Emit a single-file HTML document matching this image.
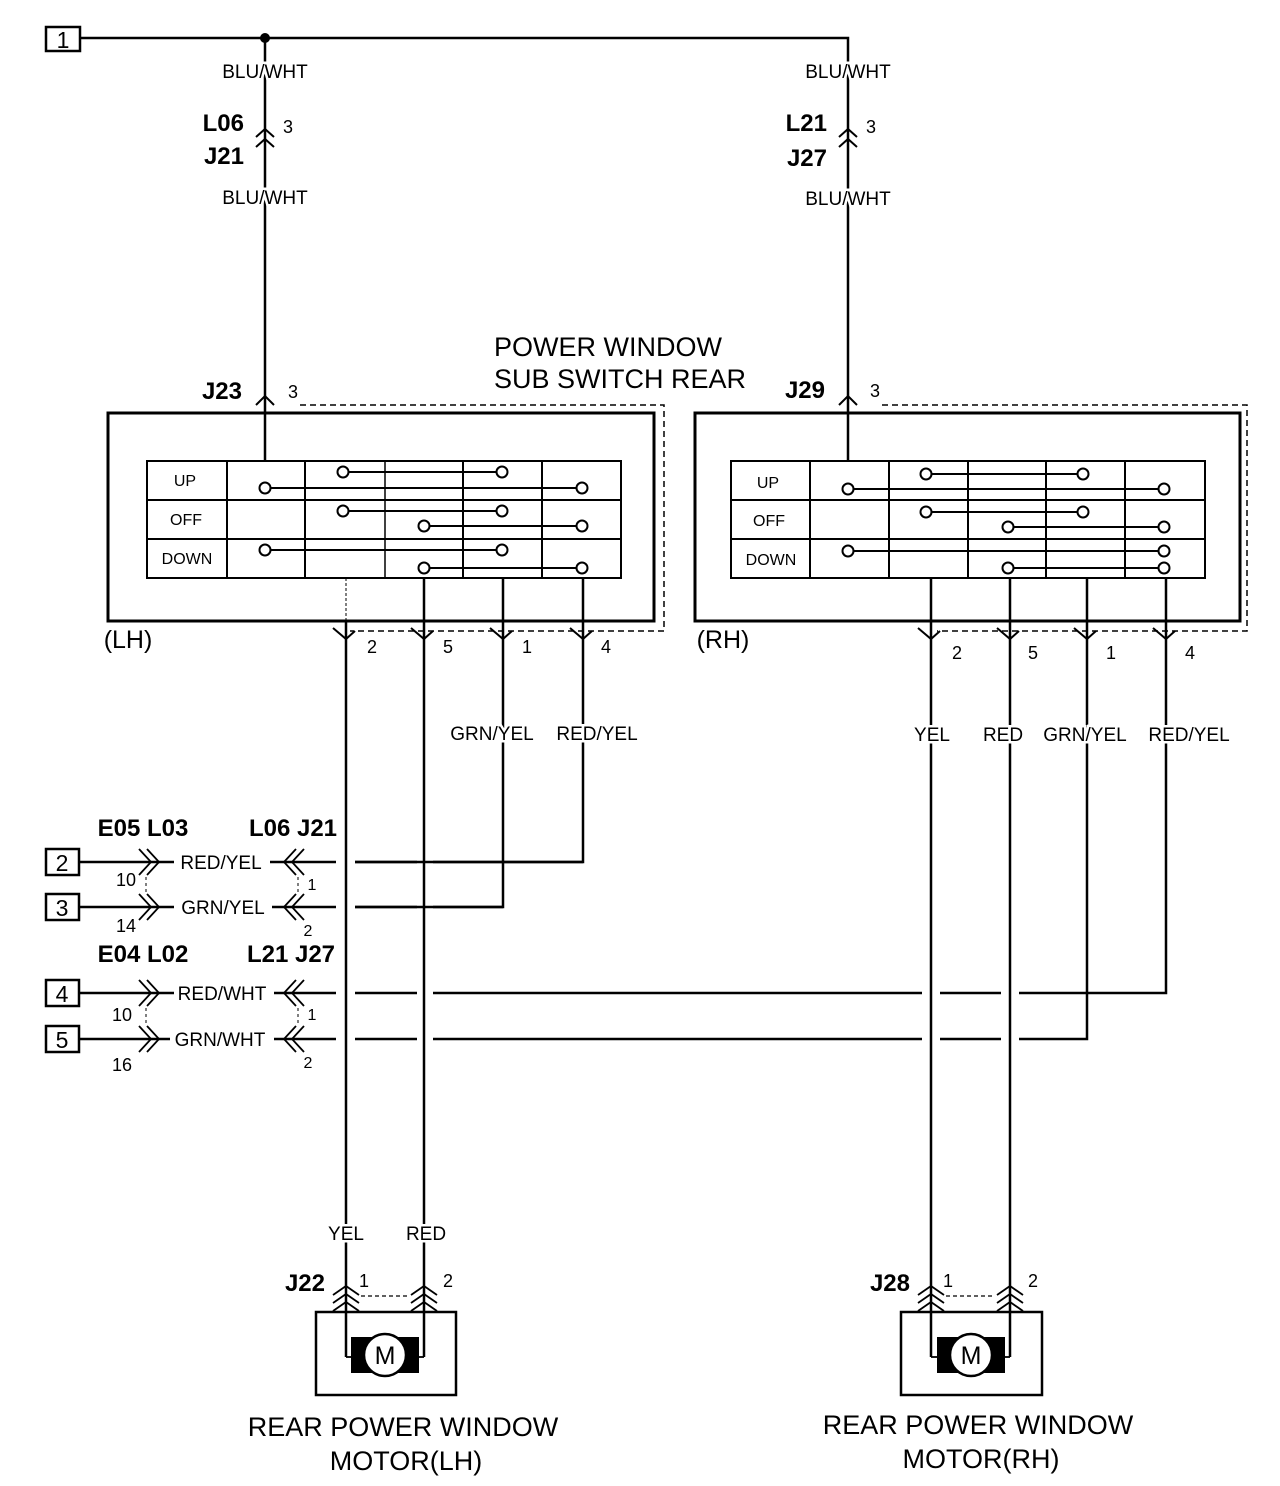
<!DOCTYPE html>
<html><head><meta charset="utf-8"><style>
html,body{margin:0;padding:0;background:#fff}
svg{display:block}
text{font-family:"Liberation Sans",Arial,sans-serif;fill:#000}
.b{font-weight:bold;font-size:24px}
.w{font-size:19px}
.bg{paint-order:stroke;stroke:#fff;stroke-width:5px}
.s{font-size:16px}
.n{font-size:18px}
.t{font-size:27px}
</style></head><body>
<svg width="1280" height="1486" viewBox="0 0 1280 1486" xmlns="http://www.w3.org/2000/svg">
<g stroke="#000" fill="none" stroke-width="2.5">
<rect x="46" y="27" width="34" height="24" stroke-width="2.5"/>
<polyline points="80,38 848,38 848,461"/>
<line x1="265" y1="38" x2="265" y2="461"/>
</g>
<circle cx="265" cy="38" r="5" fill="#000"/>
<text x="63" y="48" style="font-size:23px" text-anchor="middle">1</text>
<text x="265" y="78" class="w bg" text-anchor="middle">BLU/WHT</text>
<text x="848" y="78" class="w bg" text-anchor="middle">BLU/WHT</text>
<text x="265" y="204" class="w bg" text-anchor="middle">BLU/WHT</text>
<text x="848" y="205" class="w bg" text-anchor="middle">BLU/WHT</text>
<text x="244" y="131" class="b" text-anchor="end">L06</text>
<text x="244" y="164" class="b" text-anchor="end">J21</text>
<text x="283" y="133" class="n">3</text>
<text x="827" y="131" class="b" text-anchor="end">L21</text>
<text x="827" y="166" class="b" text-anchor="end">J27</text>
<text x="866" y="133" class="n">3</text>
<g stroke="#000" fill="none" stroke-width="2">
<polyline points="256,137 265,129 274,137"/><polyline points="256,147 265,139 274,147"/>
<polyline points="839,137 848,129 857,137"/><polyline points="839,147 848,139 857,147"/>
<polyline points="256,405 265,396 274,405"/>
<polyline points="839,405 848,396 857,405"/>
</g>
<text x="608" y="356" class="t" text-anchor="middle">POWER WINDOW</text>
<text x="620" y="388" class="t" text-anchor="middle">SUB SWITCH REAR</text>
<text x="242" y="399" class="b" text-anchor="end">J23</text>
<text x="288" y="398" class="n">3</text>
<text x="825" y="398" class="b" text-anchor="end">J29</text>
<text x="870" y="397" class="n">3</text>

<!-- LH switch -->
<g stroke="#000" fill="none">
<rect x="108" y="413" width="546" height="208" stroke-width="3"/>
<polyline points="300,405 664,405 664,631 350,631" stroke-width="1.5" stroke-dasharray="6,4"/>
<rect x="147" y="461" width="474" height="117" stroke-width="2"/>
<line x1="147" y1="500" x2="621" y2="500" stroke-width="2"/>
<line x1="147" y1="539" x2="621" y2="539" stroke-width="2"/>
<line x1="227" y1="461" x2="227" y2="578" stroke-width="2"/>
<line x1="305" y1="461" x2="305" y2="578" stroke-width="2"/>
<line x1="385" y1="461" x2="385" y2="578" stroke-width="1.5"/>
<line x1="463" y1="461" x2="463" y2="578" stroke-width="2"/>
<line x1="542" y1="461" x2="542" y2="578" stroke-width="2"/>
<g stroke-width="2">
<line x1="343" y1="472" x2="502" y2="472"/><line x1="265" y1="488" x2="582" y2="488"/>
<line x1="343" y1="511" x2="502" y2="511"/><line x1="424" y1="526" x2="582" y2="526"/>
<line x1="265" y1="550" x2="502" y2="550"/><line x1="424" y1="568" x2="582" y2="568"/>
</g>
<g fill="#fff" stroke-width="2">
<circle cx="343" cy="472" r="5.5"/><circle cx="502" cy="472" r="5.5"/><circle cx="265" cy="488" r="5.5"/><circle cx="582" cy="488" r="5.5"/>
<circle cx="343" cy="511" r="5.5"/><circle cx="502" cy="511" r="5.5"/><circle cx="424" cy="526" r="5.5"/><circle cx="582" cy="526" r="5.5"/>
<circle cx="265" cy="550" r="5.5"/><circle cx="502" cy="550" r="5.5"/><circle cx="424" cy="568" r="5.5"/><circle cx="582" cy="568" r="5.5"/>
</g>
<line x1="346" y1="578" x2="346" y2="621" stroke-width="1" stroke-dasharray="3,2"/>
<line x1="346" y1="621" x2="346" y2="1357" stroke-width="2.5"/>
<line x1="424" y1="578" x2="424" y2="1357" stroke-width="2.5"/>
<polyline points="503,578 503,907 355,907" stroke-width="2.5"/>
<polyline points="583,578 583,862 355,862" stroke-width="2.5"/>
<g stroke-width="2">
<polyline points="333,628 346,639 355,631"/><polyline points="411,628 424,639 433,631"/>
<polyline points="490,628 503,639 512,631"/><polyline points="570,628 583,639 592,631"/>
</g>
</g>
<text x="128" y="648" style="font-size:25px" text-anchor="middle">(LH)</text>
<text x="372" y="653" class="n" text-anchor="middle">2</text>
<text x="448" y="653" class="n" text-anchor="middle">5</text>
<text x="527" y="653" class="n" text-anchor="middle">1</text>
<text x="606" y="653" class="n" text-anchor="middle">4</text>
<text x="185" y="486" class="s" text-anchor="middle">UP</text>
<text x="186" y="525" class="s" text-anchor="middle">OFF</text>
<text x="187" y="564" class="s" text-anchor="middle">DOWN</text>

<!-- RH switch -->
<g stroke="#000" fill="none">
<rect x="695" y="413" width="545" height="208" stroke-width="3"/>
<polyline points="882,405 1247,405 1247,631 937,631" stroke-width="1.5" stroke-dasharray="6,4"/>
<rect x="731" y="461" width="474" height="117" stroke-width="2"/>
<line x1="731" y1="500" x2="1205" y2="500" stroke-width="2"/>
<line x1="731" y1="539" x2="1205" y2="539" stroke-width="2"/>
<line x1="810" y1="461" x2="810" y2="578" stroke-width="2"/>
<line x1="889" y1="461" x2="889" y2="578" stroke-width="2"/>
<line x1="968" y1="461" x2="968" y2="578" stroke-width="2"/>
<line x1="1046" y1="461" x2="1046" y2="578" stroke-width="2"/>
<line x1="1125" y1="461" x2="1125" y2="578" stroke-width="2"/>
<g stroke-width="2">
<line x1="926" y1="474" x2="1083" y2="474"/><line x1="848" y1="489" x2="1164" y2="489"/>
<line x1="926" y1="512" x2="1083" y2="512"/><line x1="1008" y1="527" x2="1164" y2="527"/>
<line x1="848" y1="551" x2="1164" y2="551"/><line x1="1008" y1="568" x2="1164" y2="568"/>
</g>
<g fill="#fff" stroke-width="2">
<circle cx="926" cy="474" r="5.5"/><circle cx="1083" cy="474" r="5.5"/><circle cx="848" cy="489" r="5.5"/><circle cx="1164" cy="489" r="5.5"/>
<circle cx="926" cy="512" r="5.5"/><circle cx="1083" cy="512" r="5.5"/><circle cx="1008" cy="527" r="5.5"/><circle cx="1164" cy="527" r="5.5"/>
<circle cx="848" cy="551" r="5.5"/><circle cx="1164" cy="551" r="5.5"/><circle cx="1008" cy="568" r="5.5"/><circle cx="1164" cy="568" r="5.5"/>
</g>
<line x1="931" y1="578" x2="931" y2="1357" stroke-width="2.5"/>
<line x1="1010" y1="578" x2="1010" y2="1357" stroke-width="2.5"/>
<polyline points="1087,578 1087,1039 1019,1039" stroke-width="2.5"/>
<polyline points="1166,578 1166,993 1019,993" stroke-width="2.5"/>
<g stroke-width="2">
<polyline points="918,628 931,639 940,631"/><polyline points="997,628 1010,639 1019,631"/>
<polyline points="1074,628 1087,639 1096,631"/><polyline points="1153,628 1166,639 1175,631"/>
</g>
</g>
<text x="723" y="648" style="font-size:25px" text-anchor="middle">(RH)</text>
<text x="957" y="659" class="n" text-anchor="middle">2</text>
<text x="1033" y="659" class="n" text-anchor="middle">5</text>
<text x="1111" y="659" class="n" text-anchor="middle">1</text>
<text x="1190" y="659" class="n" text-anchor="middle">4</text>
<text x="768" y="488" class="s" text-anchor="middle">UP</text>
<text x="769" y="526" class="s" text-anchor="middle">OFF</text>
<text x="771" y="565" class="s" text-anchor="middle">DOWN</text>

<text x="492" y="740" class="w bg" text-anchor="middle">GRN/YEL</text>
<text x="597" y="740" class="w bg" text-anchor="middle">RED/YEL</text>
<text x="932" y="741" class="w bg" text-anchor="middle">YEL</text>
<text x="1003" y="741" class="w bg" text-anchor="middle">RED</text>
<text x="1085" y="741" class="w bg" text-anchor="middle">GRN/YEL</text>
<text x="1189" y="741" class="w bg" text-anchor="middle">RED/YEL</text>

<!-- left connectors -->
<text x="143" y="836" class="b" text-anchor="middle">E05 L03</text>
<text x="293" y="836" class="b" text-anchor="middle">L06 J21</text>
<text x="143" y="962" class="b" text-anchor="middle">E04 L02</text>
<text x="291" y="962" class="b" text-anchor="middle">L21 J27</text>
<g stroke="#000" fill="none" stroke-width="2.5">
<rect x="46" y="849" width="33" height="26"/>
<rect x="46" y="894" width="33" height="26"/>
<rect x="46" y="980" width="33" height="26"/>
<rect x="46" y="1026" width="33" height="26"/>
<line x1="79" y1="862" x2="174" y2="862"/><line x1="79" y1="907" x2="174" y2="907"/>
<line x1="79" y1="993" x2="174" y2="993"/><line x1="79" y1="1039" x2="170" y2="1039"/>
<line x1="270" y1="862" x2="336" y2="862"/><line x1="272" y1="907" x2="336" y2="907"/>
<line x1="274" y1="993" x2="336" y2="993"/><line x1="274" y1="1039" x2="336" y2="1039"/>
<line x1="355" y1="993" x2="417" y2="993"/><line x1="433" y1="993" x2="922" y2="993"/><line x1="940" y1="993" x2="1001" y2="993"/>
<line x1="355" y1="1039" x2="417" y2="1039"/><line x1="433" y1="1039" x2="922" y2="1039"/><line x1="940" y1="1039" x2="1001" y2="1039"/>
<line x1="355" y1="862" x2="417" y2="862"/><line x1="433" y1="862" x2="583" y2="862"/>
<line x1="355" y1="907" x2="417" y2="907"/><line x1="433" y1="907" x2="503" y2="907"/>
</g>
<g stroke="#000" fill="none" stroke-width="1.8">
<polyline points="139,849 151,862 139,875"/><polyline points="147,849 159,862 147,875"/>
<polyline points="139,894 151,907 139,920"/><polyline points="147,894 159,907 147,920"/>
<polyline points="139,980 151,993 139,1006"/><polyline points="147,980 159,993 147,1006"/>
<polyline points="139,1026 151,1039 139,1052"/><polyline points="147,1026 159,1039 147,1052"/>
<polyline points="296,849 284,862 296,875"/><polyline points="304,849 292,862 304,875"/>
<polyline points="296,894 284,907 296,920"/><polyline points="304,894 292,907 304,920"/>
<polyline points="296,980 284,993 296,1006"/><polyline points="304,980 292,993 304,1006"/>
<polyline points="296,1026 284,1039 296,1052"/><polyline points="304,1026 292,1039 304,1052"/>
<line x1="146" y1="877" x2="146" y2="892" stroke-dasharray="3,3" stroke-width="1"/>
<line x1="146" y1="1008" x2="146" y2="1024" stroke-dasharray="3,3" stroke-width="1"/>
<line x1="298" y1="877" x2="298" y2="892" stroke-dasharray="3,3" stroke-width="1"/>
<line x1="298" y1="1008" x2="298" y2="1024" stroke-dasharray="3,3" stroke-width="1"/>
</g>
<text x="62" y="871" style="font-size:23px" text-anchor="middle">2</text>
<text x="62" y="916" style="font-size:23px" text-anchor="middle">3</text>
<text x="62" y="1002" style="font-size:23px" text-anchor="middle">4</text>
<text x="62" y="1048" style="font-size:23px" text-anchor="middle">5</text>
<text x="221" y="869" class="w" text-anchor="middle">RED/YEL</text>
<text x="223" y="914" class="w" text-anchor="middle">GRN/YEL</text>
<text x="222" y="1000" class="w" text-anchor="middle">RED/WHT</text>
<text x="220" y="1046" class="w" text-anchor="middle">GRN/WHT</text>
<text x="126" y="886" class="n" text-anchor="middle">10</text>
<text x="126" y="932" class="n" text-anchor="middle">14</text>
<text x="122" y="1021" class="n" text-anchor="middle">10</text>
<text x="122" y="1071" class="n" text-anchor="middle">16</text>
<text x="312" y="890" class="s" text-anchor="middle">1</text>
<text x="308" y="936" class="s" text-anchor="middle">2</text>
<text x="312" y="1020" class="s" text-anchor="middle">1</text>
<text x="308" y="1068" class="s" text-anchor="middle">2</text>

<!-- motors -->
<text x="346" y="1240" class="w bg" text-anchor="middle">YEL</text>
<text x="426" y="1240" class="w bg" text-anchor="middle">RED</text>
<text x="325" y="1291" class="b" text-anchor="end">J22</text>
<text x="364" y="1287" class="n" text-anchor="middle">1</text>
<text x="448" y="1287" class="n" text-anchor="middle">2</text>
<text x="910" y="1291" class="b" text-anchor="end">J28</text>
<text x="948" y="1287" class="n" text-anchor="middle">1</text>
<text x="1033" y="1287" class="n" text-anchor="middle">2</text>
<g stroke="#000" fill="none" stroke-width="1.8">
<polyline points="333,1295 346,1286 359,1295"/><polyline points="333,1303 346,1294 359,1303"/><polyline points="333,1311 346,1302 359,1311"/>
<polyline points="411,1295 424,1286 437,1295"/><polyline points="411,1303 424,1294 437,1303"/><polyline points="411,1311 424,1302 437,1311"/>
<polyline points="918,1295 931,1286 944,1295"/><polyline points="918,1303 931,1294 944,1303"/><polyline points="918,1311 931,1302 944,1311"/>
<polyline points="997,1295 1010,1286 1023,1295"/><polyline points="997,1303 1010,1294 1023,1303"/><polyline points="997,1311 1010,1302 1023,1311"/>
<line x1="361" y1="1296" x2="410" y2="1296" stroke-dasharray="4,3" stroke-width="1.2"/>
<line x1="946" y1="1296" x2="995" y2="1296" stroke-dasharray="4,3" stroke-width="1.2"/>
<rect x="316" y="1312" width="140" height="83" stroke-width="2.5"/>
<rect x="901" y="1312" width="141" height="83" stroke-width="2.5"/>
<polyline points="346,1357 353,1357"/><polyline points="424,1357 417,1357"/>
<polyline points="931,1357 938,1357"/><polyline points="1010,1357 1003,1357"/>
</g>
<rect x="351" y="1337" width="68" height="36" fill="#000"/>
<circle cx="385" cy="1355" r="21" fill="#fff" stroke="#000" stroke-width="2.5"/>
<text x="385" y="1364" style="font-size:25px" text-anchor="middle">M</text>
<rect x="937" y="1337" width="68" height="36" fill="#000"/>
<circle cx="971" cy="1355" r="21" fill="#fff" stroke="#000" stroke-width="2.5"/>
<text x="971" y="1364" style="font-size:25px" text-anchor="middle">M</text>
<text x="403" y="1436" class="t" text-anchor="middle">REAR POWER WINDOW</text>
<text x="406" y="1470" class="t" text-anchor="middle">MOTOR(LH)</text>
<text x="978" y="1434" class="t" text-anchor="middle">REAR POWER WINDOW</text>
<text x="981" y="1468" class="t" text-anchor="middle">MOTOR(RH)</text>
</svg>
</body></html>
